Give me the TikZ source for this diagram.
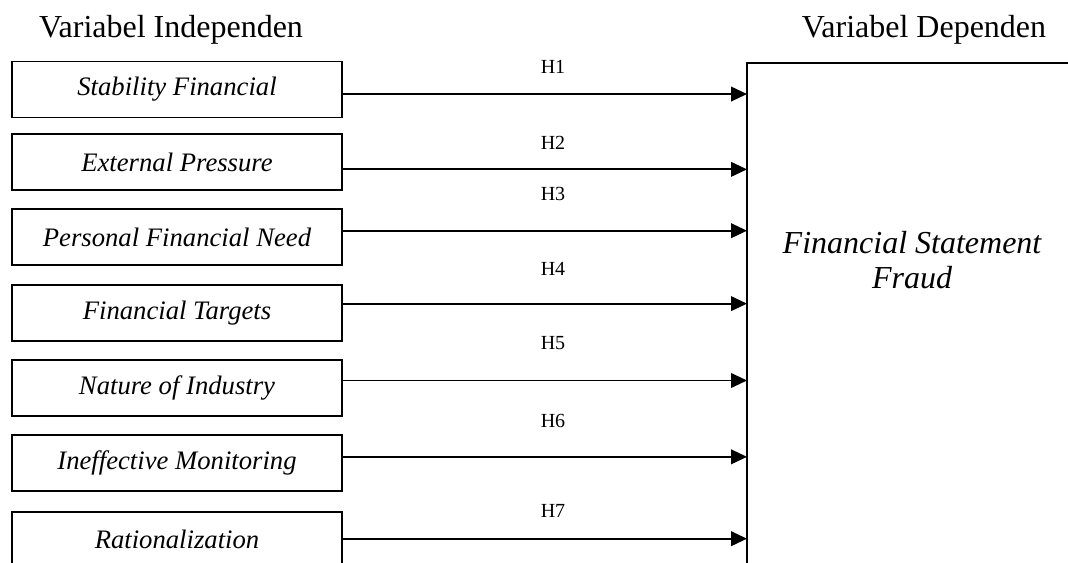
\documentclass[tikz,border=0pt]{standalone}
\usepackage{fontspec}
\setmainfont{Liberation Serif}
\usetikzlibrary{positioning,arrows.meta}

\begin{document}
\begin{tikzpicture}[x=0.75pt, y=-0.75pt, line width=1.4pt,
    kotak/.style={draw, minimum width=247.5pt, minimum height=42pt, inner sep=0pt,
      font=\fontsize{20}{24}\selectfont\itshape},
    judul/.style={font=\fontsize{24}{28}\selectfont},
    panah/.style={-{Triangle[length=12pt,width=11pt]}},
    hipo/.style={font=\fontsize{15}{18}\selectfont, midway, xshift=6pt}]
  \useasboundingbox (0,0) rectangle (1068,563);
  \node[judul] (indep) at (171,30) {Variabel Independen};
  \node[judul] (dep) at (924,30) {Variabel Dependen};
  \node[kotak] (sf) at (177,89.5) {Stability Financial};
  \node[kotak, below=11.25pt of sf] (ep) {External Pressure};
  \node[kotak, below=12.75pt of ep] (pfn) {Personal Financial Need};
  \node[kotak, below=13.5pt of pfn] (ft) {Financial Targets};
  \node[kotak, below=12.75pt of ft] (noi) {Nature of Industry};
  \node[kotak, below=12.75pt of noi] (im) {Ineffective Monitoring};
  \node[kotak, below=14.25pt of im] (rat) {Rationalization};
  % kotak variabel dependen, terbuka di kanan dan bawah
  \coordinate (dl) at (747,63);
  \draw (1068,63) -- (dl) -- (747,563);
  \node[font=\fontsize{24}{26}\selectfont\itshape, align=center] (fsf) at (912,260) {Financial Statement\\Fraud};
  \draw[panah] ([yshift=-3.4pt]sf.east) coordinate (a1) -- (a1 -| dl) node[hipo, yshift=20.25pt] {H1};
  \draw[panah] ([yshift=-5.25pt]ep.east) coordinate (a2) -- (a2 -| dl) node[hipo, yshift=19.5pt] {H2};
  \draw[panah] ([yshift=4.9pt]pfn.east) coordinate (a3) -- (a3 -| dl) node[hipo, yshift=27.75pt] {H3};
  \draw[panah] ([yshift=7.1pt]ft.east) coordinate (a4) -- (a4 -| dl) node[hipo, yshift=26.25pt] {H4};
  \draw[panah] ([yshift=5.6pt]noi.east) coordinate (a5) -- (a5 -| dl) node[hipo, yshift=27.75pt] {H5};
  \draw[panah] ([yshift=4.5pt]im.east) coordinate (a6) -- (a6 -| dl) node[hipo, yshift=27pt] {H6};
  \draw[panah] ([yshift=0.75pt]rat.east) coordinate (a7) -- (a7 -| dl) node[hipo, yshift=21pt] {H7};
\end{tikzpicture}
\end{document}
